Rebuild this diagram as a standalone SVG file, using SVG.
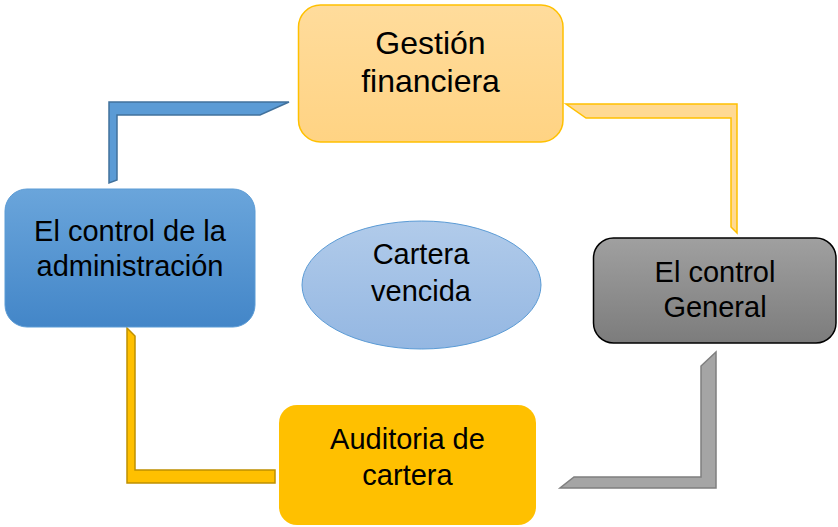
<svg xmlns="http://www.w3.org/2000/svg" width="838" height="527" viewBox="0 0 838 527">
<defs>
<linearGradient id="gOr" x1="0" y1="0" x2="0" y2="1"><stop offset="0" stop-color="#ffdc9c"/><stop offset="1" stop-color="#ffd383"/></linearGradient>
<linearGradient id="gBl" x1="0" y1="0" x2="0" y2="1"><stop offset="0" stop-color="#6aa5db"/><stop offset="1" stop-color="#4386c8"/></linearGradient>
<linearGradient id="gGr" x1="0" y1="0" x2="0" y2="1"><stop offset="0" stop-color="#a0a0a0"/><stop offset="1" stop-color="#7c7c7c"/></linearGradient>
<linearGradient id="gEl" x1="0" y1="0" x2="0" y2="1"><stop offset="0" stop-color="#b1cbea"/><stop offset="1" stop-color="#94b7e2"/></linearGradient>
</defs>
<style>
text{font-family:"Liberation Sans",Arial,sans-serif;fill:#000;text-anchor:middle}
.conn{stroke-width:1.5;stroke-linejoin:miter}
</style>
<g id="connectors">
<polygon class="conn" points="109,102 289,102 260,115 117,115 117,180 109,183" fill="#5b9bd5" stroke="#41719c"/>
<polygon class="conn" points="566,104 737,104 737,233 731,227 731,118 586,118" fill="#ffd993" stroke="#ffc000"/>
<polygon class="conn" points="127,328 135,336 135,470 275,470 275,483 127,483" fill="#ffc000" stroke="#bf9000"/>
<polygon class="conn" points="716,352 716,488 560,488 574,477 701,477 701,366" fill="#a5a5a5" stroke="#7f7f7f"/>
</g>
<g id="gestion">
<rect x="298.5" y="5" width="264.5" height="137" rx="22" fill="url(#gOr)" stroke="#ffc000" stroke-width="1.5"/>
<text x="430.5" y="54" font-size="32">Gestión</text>
<text x="430.5" y="92" font-size="32">financiera</text>
</g>
<g id="administracion">
<rect x="5" y="189" width="250" height="138" rx="22" fill="url(#gBl)" stroke="#5b9bd5" stroke-width="1"/>
<text x="130" y="241" font-size="29">El control de la</text>
<text x="130" y="276" font-size="29">administración</text>
</g>
<g id="general">
<rect x="593.5" y="238" width="242.5" height="105" rx="20" fill="url(#gGr)" stroke="#000" stroke-width="1.5"/>
<text x="715" y="282" font-size="29">El control</text>
<text x="715" y="317" font-size="29">General</text>
</g>
<g id="auditoria">
<rect x="279" y="405" width="257" height="120" rx="18" fill="#ffc000"/>
<text x="407.5" y="449" font-size="29">Auditoria de</text>
<text x="407.5" y="485" font-size="29">cartera</text>
</g>
<g id="cartera">
<ellipse cx="421.5" cy="285" rx="119.5" ry="64" fill="url(#gEl)" stroke="#5b9bd5" stroke-width="1"/>
<text x="421" y="264" font-size="29">Cartera</text>
<text x="421" y="301" font-size="29">vencida</text>
</g>
</svg>
